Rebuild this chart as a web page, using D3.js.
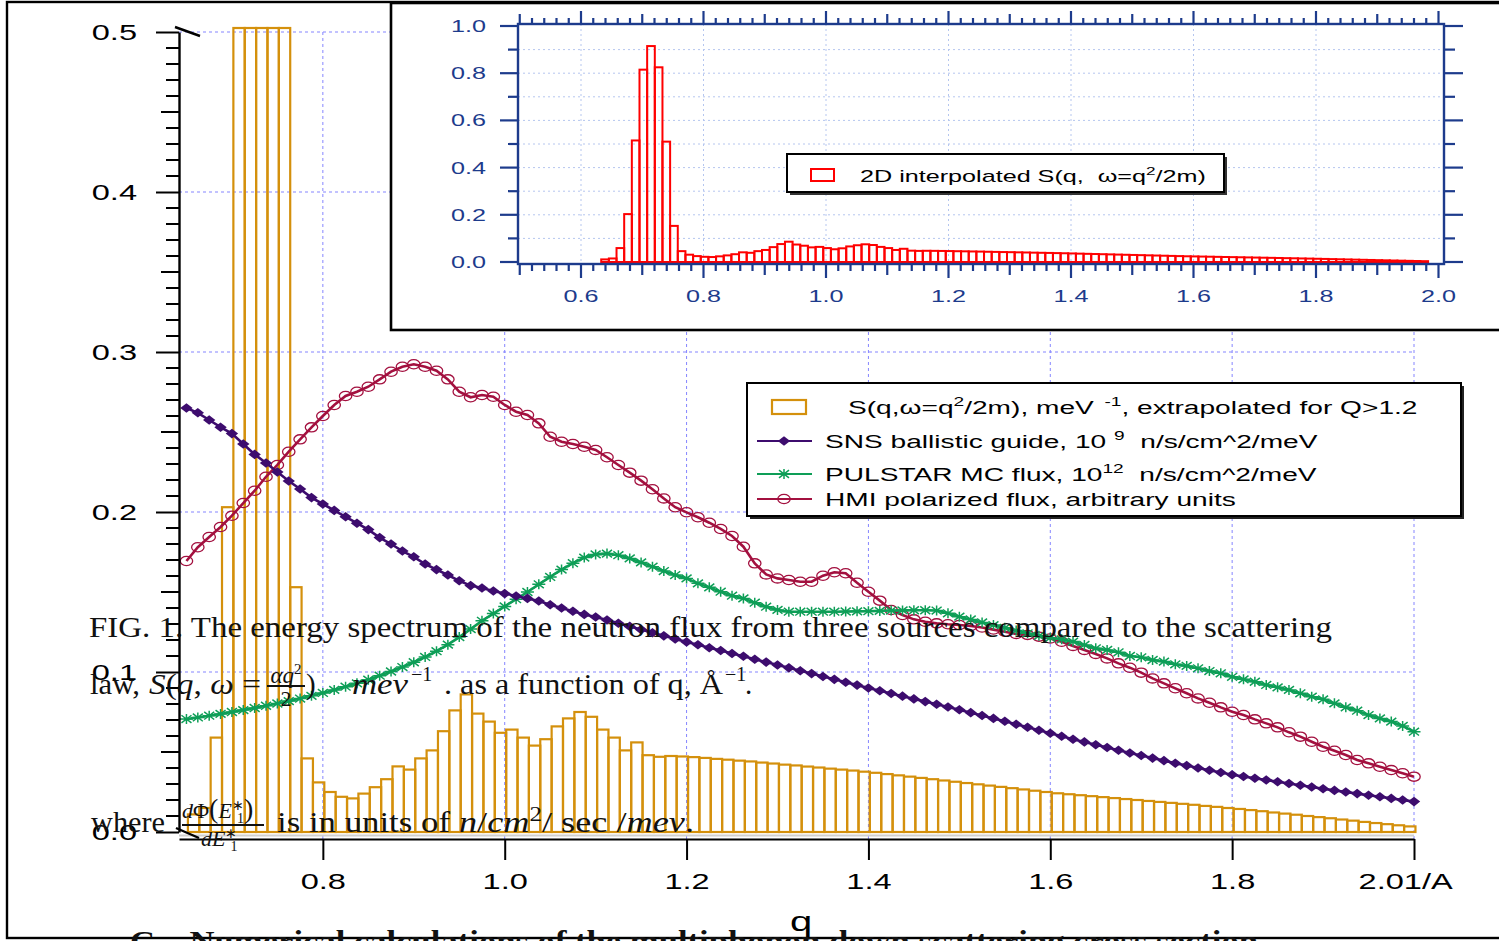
<!DOCTYPE html>
<html lang="en">
<head>
  <meta charset="UTF-8">
  <title>Neutron flux spectra and S(q)</title>
  <script src="https://d3js.org/d3.v7.min.js"></script>
  <style>
    body { margin: 0; background: #fff; }
    svg { display: block; }
    text { white-space: pre; }
  </style>
</head>
<body>
  <svg width="1499" height="941"></svg>

  <script>
    // flux curves are sampled on a regular q grid
    const qStart = 0.65, qStep = 0.0125;
    // S(q) histogram bins (same values in main plot and inset, inset axis is offset)
    const sqStartMain = 0.6516, sqStartInset = 0.633, sqBin = 0.0125;

    const sqValues = [
      0.011, 0.015, 0.059, 0.203, 0.515, 0.815, 0.915, 0.825, 0.51, 0.153,
      0.046, 0.031, 0.025, 0.022, 0.021, 0.024, 0.028, 0.033, 0.041, 0.039,
      0.046, 0.051, 0.063, 0.076, 0.086, 0.074, 0.069, 0.062, 0.064, 0.059,
      0.054, 0.058, 0.066, 0.071, 0.075, 0.072, 0.064, 0.059, 0.051, 0.056,
      0.048, 0.047, 0.0475, 0.0472, 0.0468, 0.0463, 0.0457, 0.0452, 0.0446, 0.0441,
      0.0434, 0.0428, 0.0421, 0.0416, 0.0409, 0.0403, 0.0396, 0.0390, 0.0384, 0.0377,
      0.0370, 0.0362, 0.0354, 0.0346, 0.0338, 0.0330, 0.0322, 0.0314, 0.0306, 0.0298,
      0.0290, 0.0282, 0.0274, 0.0266, 0.0258, 0.0250, 0.0242, 0.0236, 0.0230, 0.0224,
      0.0218, 0.0212, 0.0206, 0.0200, 0.0194, 0.0188, 0.0182, 0.0176, 0.0170, 0.0163,
      0.0157, 0.0150, 0.0144, 0.0137, 0.0130, 0.0122, 0.0115, 0.0108, 0.0100, 0.0093,
      0.0086, 0.0078, 0.0071, 0.0063, 0.0056, 0.0049, 0.0042, 0.0035
    ];

    const snsFlux = [
      0.265, 0.262, 0.2575, 0.253, 0.249, 0.2425, 0.236, 0.2306, 0.225, 0.2194,
      0.2144, 0.209, 0.205, 0.201, 0.197, 0.193, 0.189, 0.184, 0.180, 0.1756,
      0.172, 0.1675, 0.164, 0.1606, 0.157, 0.154, 0.1525, 0.1506, 0.149, 0.1475,
      0.146, 0.1444, 0.142, 0.140, 0.138, 0.136, 0.1344, 0.1325, 0.1305, 0.1285,
      0.1265, 0.1245, 0.1226, 0.1207, 0.1188, 0.1170, 0.1152, 0.1134, 0.1116, 0.1098,
      0.1080, 0.1062, 0.1044, 0.1026, 0.1008, 0.0990, 0.0972, 0.0954, 0.0936, 0.0918,
      0.0900, 0.0883, 0.0866, 0.0849, 0.0832, 0.0815, 0.0798, 0.0781, 0.0764, 0.0746,
      0.0728, 0.0710, 0.0692, 0.0673, 0.0655, 0.0636, 0.0617, 0.0598, 0.0580, 0.0563,
      0.0545, 0.0528, 0.0511, 0.0494, 0.0478, 0.0462, 0.0446, 0.0430, 0.0415, 0.0400,
      0.0386, 0.0372, 0.0358, 0.0347, 0.0336, 0.0325, 0.0314, 0.0303, 0.0292, 0.0281,
      0.0270, 0.0260, 0.0250, 0.0240, 0.0230, 0.0220, 0.0210, 0.0200, 0.0190
    ];

    const pulstarFlux = [
      0.0706, 0.0716, 0.0727, 0.0738, 0.0750, 0.0762, 0.0775, 0.0789, 0.0803, 0.0818,
      0.0834, 0.0851, 0.0869, 0.0888, 0.0908, 0.0929, 0.0952, 0.0977, 0.1003, 0.1031,
      0.1061, 0.1094, 0.1130, 0.1171, 0.1218, 0.1268, 0.1320, 0.1365, 0.1410, 0.1455,
      0.1500, 0.1548, 0.1594, 0.1640, 0.1680, 0.1715, 0.1735, 0.1740, 0.1730, 0.1710,
      0.1685, 0.1658, 0.1631, 0.1606, 0.1585, 0.1554, 0.1529, 0.1502, 0.1477, 0.1460,
      0.1433, 0.1408, 0.1388, 0.1377, 0.1377, 0.1377, 0.1377, 0.1377, 0.1378, 0.1379,
      0.1380, 0.1382, 0.1384, 0.1385, 0.1386, 0.1386, 0.1384, 0.1367, 0.1346, 0.1328,
      0.1310, 0.1293, 0.1276, 0.1259, 0.1242, 0.1226, 0.1214, 0.1204, 0.1190, 0.1169,
      0.1148, 0.1138, 0.1123, 0.1100, 0.1092, 0.1075, 0.1065, 0.1048, 0.1038, 0.1023,
      0.1006, 0.0992, 0.0970, 0.0954, 0.0939, 0.0919, 0.0904, 0.0888, 0.0867, 0.0846,
      0.0829, 0.0804, 0.0779, 0.0758, 0.0731, 0.0710, 0.0690, 0.0663, 0.0627
    ];

    const hmiFlux = [
      0.1694, 0.178, 0.1844, 0.1906, 0.1977, 0.2056, 0.2133, 0.222, 0.2294, 0.2377,
      0.2454, 0.2529, 0.260, 0.2669, 0.2725, 0.2752, 0.2783, 0.2829, 0.2877, 0.2908,
      0.2923, 0.2908, 0.2883, 0.2829, 0.2752, 0.2717, 0.2731, 0.272, 0.2669, 0.2627,
      0.2606, 0.2554, 0.247, 0.2439, 0.2425, 0.2408, 0.2388, 0.2342, 0.2294, 0.2246,
      0.2196, 0.2142, 0.2085, 0.203, 0.1998, 0.1967, 0.1933, 0.1894, 0.185, 0.1783,
      0.1679, 0.161, 0.1585, 0.1575, 0.1564, 0.1564, 0.1602, 0.1623, 0.1617, 0.1558,
      0.1502, 0.1446, 0.1388, 0.1356, 0.1329, 0.1314, 0.1304, 0.1298, 0.1294, 0.1288,
      0.1278, 0.1265, 0.1252, 0.1238, 0.1232, 0.1221, 0.1210, 0.1189, 0.1163, 0.1138,
      0.1113, 0.1085, 0.1054, 0.1027, 0.0996, 0.0960, 0.0929, 0.0898, 0.0867, 0.0835,
      0.0808, 0.0779, 0.0752, 0.0731, 0.0704, 0.0679, 0.0654, 0.0623, 0.0596, 0.0564,
      0.0533, 0.0508, 0.0481, 0.0450, 0.0429, 0.0408, 0.0387, 0.0367, 0.0346
    ];

    const xTicks = [0.8, 1.0, 1.2, 1.4, 1.6, 1.8, 2.0];
    const xTickLabels = ["0.8", "1.0", "1.2", "1.4", "1.6", "1.8", "2.01/A"];
    const yTicks = [0, 0.1, 0.2, 0.3, 0.4, 0.5];
    const insetXTicks = [0.6, 0.8, 1.0, 1.2, 1.4, 1.6, 1.8, 2.0];
    const insetYTicks = [0, 0.2, 0.4, 0.6, 0.8, 1.0];

    const legendItems = [
      { kind: "bar",  parts: [["S(q,\u03c9=q"], ["2", 1], ["/2m), meV"], ["  -1", 1], [", extrapolated for Q>1.2"]] },
      { kind: "sns",  parts: [["SNS ballistic guide, 10 "], ["9", 1], ["  n/s/cm^2/meV"]] },
      { kind: "pul",  parts: [["PULSTAR MC flux, 10"], ["12", 1], ["  n/s/cm^2/meV"]] },
      { kind: "hmi",  parts: [["HMI polarized flux, arbitrary units"]] }
    ];
    const insetLegend = [["2D interpolated S(q,  \u03c9=q"], ["2", 1], ["/2m)"]];

    const ORANGE = "#d4900c", PURPLE = "#3d0c6e", GREEN = "#0e9e57", CRIMSON = "#a3103f";
    const INSET = "#1d3b8c", RED = "#ff0000";
    const SX = 1.48;   // the whole figure is stretched horizontally
    const sans = '"Liberation Sans", Arial, Helvetica, sans-serif';
    const serif = '"Liberation Serif", "Times New Roman", serif';

    const svg = d3.select("svg");
    svg.append("rect").attr("width", 1499).attr("height", 941).attr("fill", "#fff");

    // text helper: stretched sans text with optional superscript parts
    function stext(parent, tx, ty, size, anchor, parts, color) {
      const t = parent.append("text")
        .attr("transform", `translate(${tx},${ty}) scale(${SX},1)`)
        .attr("font-family", sans).attr("font-size", size)
        .attr("text-anchor", anchor).attr("fill", color || "#000");
      let up = false;
      parts.forEach(([s, sup]) => {
        const sp = t.append("tspan").text(s);
        if (sup) {
          sp.attr("font-size", size * 0.68);
          if (!up) { sp.attr("dy", -size * 0.42); up = true; }
        } else if (up) { sp.attr("dy", size * 0.42); up = false; }
      });
      return t;
    }

    // ---------- main plot ----------
    const x = d3.scaleLinear().domain([0.6418, 2.0]).range([179, 1414]);
    const y = d3.scaleLinear().domain([0, 0.5]).range([832, 32]);
    const qAt = i => qStart + i * qStep;

    const grid = svg.append("g").attr("stroke", "#8585ff").attr("stroke-width", 1).attr("stroke-dasharray", "3,3");
    grid.selectAll("line.h").data(yTicks.filter(d => d > 0)).join("line").attr("class", "h")
      .attr("x1", 179).attr("x2", 1414).attr("y1", d => y(d)).attr("y2", d => y(d));
    grid.selectAll("line.v").data(xTicks).join("line").attr("class", "v")
      .attr("x1", d => x(d)).attr("x2", d => x(d)).attr("y1", y(0.5)).attr("y2", 839);

    // histogram
    const barW = x(sqStartMain + sqBin) - x(sqStartMain);
    const barTop = v => y(Math.min(v, 0.5025));
    svg.append("g").selectAll("rect").data(sqValues).join("rect")
      .attr("x", (d, i) => x(sqStartMain + i * sqBin))
      .attr("y", d => barTop(d))
      .attr("width", barW)
      .attr("height", d => y(0) - barTop(d))
      .attr("fill", "none").attr("stroke", ORANGE).attr("stroke-width", 2.2);

    const line = d3.line().x((d, i) => x(qAt(i))).y(d => y(d));

    // marker shapes (squashed vertically like the stretched original)
    const diamond = "M0,-4.8L6.2,0L0,4.8L-6.2,0Z";
    const star = "M-6.5,0H6.5M0,-5V5M-5,-3.8L5,3.8M-5,3.8L5,-3.8";

    function drawMarker(sel, kind, color) {
      if (kind === "sns") sel.append("path").attr("d", diamond).attr("fill", color);
      if (kind === "pul") sel.append("path").attr("d", star).attr("stroke", color).attr("stroke-width", 1.5).attr("fill", "none");
      if (kind === "hmi") sel.append("ellipse").attr("rx", 6.2).attr("ry", 4.6)
        .attr("fill", "none").attr("stroke", color).attr("stroke-width", 1.3);
    }
    function series(data, color, kind) {
      const g = svg.append("g");
      g.append("path").datum(data).attr("d", line)
        .attr("fill", "none").attr("stroke", color).attr("stroke-width", 2.6);
      const m = g.selectAll("g").data(data).join("g")
        .attr("transform", (d, i) => `translate(${x(qAt(i))},${y(d)})`);
      drawMarker(m, kind, color);
    }
    series(hmiFlux, CRIMSON, "hmi");
    series(pulstarFlux, GREEN, "pul");
    series(snsFlux, PURPLE, "sns");

    // axes
    svg.append("line").attr("x1", 179).attr("x2", 1414).attr("y1", 835.5).attr("y2", 835.5)
      .attr("stroke", "#d0d0d0").attr("stroke-width", 2);

    const xAxis = svg.append("g").attr("transform", "translate(0,839)")
      .call(d3.axisBottom(x).tickValues(xTicks).tickSize(21).tickPadding(13).tickSizeOuter(0)
        .tickFormat((d, i) => xTickLabels[i]));
    xAxis.select(".domain").attr("stroke-width", 2.2);
    xAxis.selectAll(".tick line").attr("stroke-width", 2);
    xAxis.selectAll("text").attr("font-family", sans).attr("font-size", 22).attr("fill", "#000")
      .attr("transform", `scale(${SX},1)`)
      .attr("dx", (d, i) => i === xTicks.length - 1 ? -6 : 0);

    const minorY = d3.range(0, 51).map(k => k / 100).filter(v => Math.round(v * 100) % 10 !== 0);
    const yAxis = svg.append("g").attr("transform", "translate(179,0)");
    yAxis.call(d3.axisLeft(y).tickValues(yTicks).tickSize(23).tickSizeOuter(0).tickFormat(d3.format(".1f")));
    yAxis.select(".domain").attr("stroke-width", 2.4);
    yAxis.selectAll(".tick line").attr("stroke-width", 2);
    yAxis.selectAll("text").attr("font-family", sans).attr("font-size", 22).attr("fill", "#000")
      .attr("x", -42 / SX).attr("transform", `scale(${SX},1)`);
    yAxis.append("g").selectAll("line").data(minorY).join("line")
      .attr("x1", d => Math.round(d * 100) % 5 === 0 ? -18 : -13).attr("x2", 0)
      .attr("y1", d => y(d)).attr("y2", d => y(d))
      .attr("stroke", "#000").attr("stroke-width", 2);

    // axis break marks
    svg.append("line").attr("x1", 175).attr("y1", 27).attr("x2", 200).attr("y2", 36).attr("stroke", "#000").attr("stroke-width", 2.4);
    svg.append("line").attr("x1", 176).attr("y1", 828).attr("x2", 199).attr("y2", 838).attr("stroke", "#000").attr("stroke-width", 2.4);

    stext(svg, 801, 931, 27, "middle", [["q"]]);

    // legend
    const lg = svg.append("g");
    lg.append("rect").attr("x", 750).attr("y", 386).attr("width", 714).attr("height", 133).attr("fill", "#222");
    lg.append("rect").attr("x", 747).attr("y", 383).attr("width", 714).attr("height", 133)
      .attr("fill", "#fff").attr("stroke", "#000").attr("stroke-width", 2);
    const rowY = [407, 441, 474, 499];
    legendItems.forEach((it, i) => {
      const cy = rowY[i];
      if (it.kind === "bar") {
        lg.append("rect").attr("x", 772).attr("y", cy - 7).attr("width", 34).attr("height", 14)
          .attr("fill", "none").attr("stroke", ORANGE).attr("stroke-width", 2.2);
        stext(lg, 848, cy + 7, 19, "start", it.parts);
      } else {
        const color = { sns: PURPLE, pul: GREEN, hmi: CRIMSON }[it.kind];
        lg.append("line").attr("x1", 757).attr("x2", 812).attr("y1", cy).attr("y2", cy)
          .attr("stroke", color).attr("stroke-width", 2);
        drawMarker(lg.append("g").attr("transform", `translate(784,${cy})`), it.kind, color);
        stext(lg, 825, cy + 7, 19, "start", it.parts);
      }
    });

    // ---------- inset ----------
    const ins = svg.append("g");
    ins.append("rect").attr("x", 391).attr("y", 3).attr("width", 1130).attr("height", 327)
      .attr("fill", "#fff").attr("stroke", "#000").attr("stroke-width", 2.6);

    const xi = d3.scaleLinear().domain([0.5, 2.0]).range([519.75, 1438.5]);
    const yi = d3.scaleLinear().domain([0, 1]).range([262, 26]);

    const ig = ins.append("g").attr("stroke", "#b5c6ef").attr("stroke-width", 1).attr("stroke-dasharray", "2,3");
    ig.selectAll("line.h").data(d3.range(1, 10).map(k => k / 10)).join("line").attr("class", "h")
      .attr("x1", 518).attr("x2", 1444).attr("y1", d => yi(d)).attr("y2", d => yi(d));
    ig.selectAll("line.v").data(insetXTicks.slice(0, -1)).join("line").attr("class", "v")
      .attr("x1", d => xi(d)).attr("x2", d => xi(d)).attr("y1", 24).attr("y2", 264);

    const ibw = xi(sqStartInset + sqBin) - xi(sqStartInset);
    ins.append("g").selectAll("rect").data(sqValues).join("rect")
      .attr("x", (d, i) => xi(sqStartInset + i * sqBin))
      .attr("y", d => yi(d)).attr("width", ibw).attr("height", d => yi(0) - yi(d))
      .attr("fill", "none").attr("stroke", RED).attr("stroke-width", 2);

    // inset frame axes
    ins.append("rect").attr("x", 518).attr("y", 24).attr("width", 926).attr("height", 240)
      .attr("fill", "none").attr("stroke", INSET).attr("stroke-width", 2.4);

    const iyAll = d3.range(0, 11).map(k => k / 10);
    const ixAll = d3.range(0, 76).map(k => 0.5 + k * 0.02);
    const tickG = ins.append("g").attr("stroke", INSET).attr("stroke-width", 2.2);
    tickG.selectAll("line.l").data(iyAll).join("line").attr("class", "l")
      .attr("x1", (d, i) => i % 2 === 0 ? 500 : 508).attr("x2", 518)
      .attr("y1", d => yi(d)).attr("y2", d => yi(d));
    tickG.selectAll("line.r").data(iyAll).join("line").attr("class", "r")
      .attr("x1", 1444).attr("x2", (d, i) => i % 2 === 0 ? 1463 : 1455)
      .attr("y1", d => yi(d)).attr("y2", d => yi(d));
    const tlen = k => k % 10 === 5 ? 14 : (k % 5 === 0 ? 11 : 7);
    tickG.selectAll("line.b").data(ixAll).join("line").attr("class", "b")
      .attr("x1", d => xi(d)).attr("x2", d => xi(d)).attr("y1", 264).attr("y2", (d, k) => 264 + tlen(k));
    tickG.selectAll("line.t").data(ixAll).join("line").attr("class", "t")
      .attr("x1", d => xi(d)).attr("x2", d => xi(d)).attr("y1", 24).attr("y2", (d, k) => 24 - tlen(k) + 1);

    insetYTicks.forEach(v => stext(ins, 486, yi(v) + 6, 17, "end", [[v.toFixed(1)]], INSET));
    insetXTicks.forEach(v => stext(ins, xi(v), 302, 17, "middle", [[v.toFixed(1)]], INSET));

    ins.append("rect").attr("x", 790).attr("y", 157).attr("width", 437).attr("height", 38).attr("fill", "#333");
    ins.append("rect").attr("x", 787).attr("y", 154).attr("width", 437).attr("height", 38)
      .attr("fill", "#fff").attr("stroke", "#000").attr("stroke-width", 2);
    ins.append("rect").attr("x", 811).attr("y", 169).attr("width", 23).attr("height", 12)
      .attr("fill", "none").attr("stroke", RED).attr("stroke-width", 2);
    stext(ins, 860, 182, 17, "start", insetLegend);

    // outer frame
    svg.append("rect").attr("x", 7).attr("y", 2).attr("width", 1510).attr("height", 936)
      .attr("fill", "none").attr("stroke", "#000").attr("stroke-width", 2.4);

    // ---------- overlaid caption text ----------
    const cap = svg.append("g").attr("font-family", serif).attr("fill", "#111");
    function ctext(tx, ty, size, len, parts) {
      const t = cap.append("text").attr("x", tx).attr("y", ty).attr("font-size", size);
      if (len) t.attr("textLength", len).attr("lengthAdjust", "spacingAndGlyphs");
      parts.forEach(p => {
        const sp = t.append("tspan").text(p.s);
        if (p.i) sp.attr("font-style", "italic");
        if (p.fs) sp.attr("font-size", p.fs);
        if (p.dx) sp.attr("dx", p.dx);
        if (p.dy) sp.attr("dy", p.dy);
      });
      return t;
    }
    ctext(89, 637, 29, 1243, [{ s: "FIG. 1. The energy spectrum of the neutron flux from three sources compared to the scattering" }]);

    ctext(90, 694, 29, 50, [{ s: "law," }]);
    ctext(149, 694, 29, 112, [{ s: "S", i: 1 }, { s: "(" }, { s: "q", i: 1 }, { s: ", " }, { s: "\u03c9", i: 1 }, { s: " =" }]);
    ctext(286, 683, 23, 0, [{ s: "\u03b1q", i: 1 }, { s: "2", fs: 15, dy: -9 }]).attr("text-anchor", "middle");
    cap.append("line").attr("x1", 267).attr("x2", 305).attr("y1", 686).attr("y2", 686).attr("stroke", "#111").attr("stroke-width", 2);
    ctext(286, 706, 22, 0, [{ s: "2" }]).attr("text-anchor", "middle");
    ctext(306, 694, 29, 0, [{ s: ")" }]);
    ctext(352, 694, 29, 56, [{ s: "mev", i: 1 }]);
    ctext(411, 681, 20, 0, [{ s: "\u22121" }]);
    ctext(444, 694, 29, 279, [{ s: ". as a function of q, \u00c5" }]);
    ctext(725, 681, 20, 0, [{ s: "\u22121" }]);
    ctext(745, 694, 29, 0, [{ s: "." }]);

    ctext(91, 832, 29, 74, [{ s: "where" }]);
    ctext(182, 818, 22, 0, [{ s: "d", i: 1 }, { s: "\u03a6" }, { s: "(", fs: 28 }, { s: "E", i: 1 },
      { s: "\u2217", fs: 14, dy: -8 }, { s: "1", fs: 14, dx: -7, dy: 13 }, { s: ")", fs: 28, dy: -5 }]);
    cap.append("line").attr("x1", 182).attr("x2", 264).attr("y1", 825).attr("y2", 825).attr("stroke", "#111").attr("stroke-width", 2);
    ctext(201, 846, 22, 0, [{ s: "dE", i: 1 }, { s: "\u2217", fs: 14, dy: -8 }, { s: "1", fs: 14, dx: -7, dy: 13 }]);
    ctext(277, 832, 29, 173, [{ s: "is in units of" }]);
    ctext(459, 832, 29, 235, [{ s: "n", i: 1 }, { s: "/" }, { s: "cm", i: 1 }, { s: "2", fs: 20, dy: -11 },
      { s: "/ sec /", dy: 11 }, { s: "mev", i: 1 }, { s: "." }]);

    ctext(130, 951, 29, 1128, [{ s: "C.   Numerical calculations of the multiphonon down scattering cross section" }])
      .attr("font-weight", "bold");
  </script>
</body>
</html>
